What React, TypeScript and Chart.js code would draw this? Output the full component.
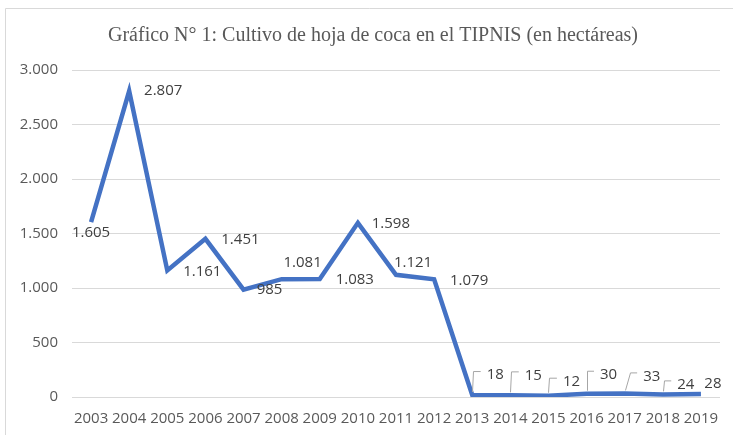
import React, { useEffect, useRef } from "react";
import { Chart, registerables } from "chart.js";

Chart.register(...registerables);

const TITLE = "Gráfico N° 1: Cultivo de hoja de coca en el TIPNIS (en hectáreas)";
const YEARS = ["2003", "2004", "2005", "2006", "2007", "2008", "2009", "2010", "2011", "2012", "2013", "2014", "2015", "2016", "2017", "2018", "2019"];
const HECTARES = [1605, 2807, 1161, 1451, 985, 1081, 1083, 1598, 1121, 1079, 18, 15, 12, 30, 33, 24, 28];
const Y_MAX = 3000;
const Y_STEP = 500;

// label placement (text centre relative to point), and whether a leader line is drawn
const LABEL_DX = [0, 34, 35, 35, 26, 21, 35, 33, 17, 35, 23, 23, 23, 22, 27, 23, 12];
const LABEL_DY = [11, 0, 1, 1, 0, -16, 1, 1, -12, 1, -20, -20, -14, -19, -17, -10, -10];
const LEADER = [false, false, false, false, false, false, false, false, false, false, true, true, true, true, true, true, false];

const fmt = (v: number) => v.toString().replace(/\B(?=(\d{3})+(?!\d))/g, ".");

const LABEL_FONT = "15px 'Open Sans'";

const framePlugin = {
  id: "frame",
  beforeDraw(chart: any) {
    const ctx = chart.ctx;
    ctx.save();
    ctx.strokeStyle = "#d9d9d9";
    ctx.lineWidth = 1;
    ctx.beginPath();
    ctx.moveTo(5.5, chart.height);
    ctx.lineTo(5.5, 8.5);
    ctx.lineTo(chart.width, 8.5);
    ctx.stroke();
    ctx.fillStyle = "#595959";
    ctx.font = "20px 'Liberation Serif'";
    ctx.textAlign = "center";
    ctx.textBaseline = "middle";
    ctx.fillText(TITLE, 373, 36);
    ctx.restore();
  },
};

const labelsPlugin = {
  id: "pointLabels",
  afterDatasetsDraw(chart: any) {
    const ctx = chart.ctx;
    const meta = chart.getDatasetMeta(0);
    ctx.save();
    ctx.font = LABEL_FONT;
    ctx.textAlign = "center";
    ctx.textBaseline = "middle";
    meta.data.forEach((pt: any, i: number) => {
      const text = fmt(HECTARES[i]);
      const lx = pt.x + LABEL_DX[i];
      const ly = pt.y + LABEL_DY[i];
      if (LEADER[i]) {
        const w = ctx.measureText(text).width;
        const left = lx - w / 2;
        ctx.strokeStyle = "#a6a6a6";
        ctx.lineWidth = 1;
        ctx.beginPath();
        ctx.moveTo(Math.round(pt.x) + 0.5, pt.y - 3);
        ctx.lineTo(Math.round(left - 13.5) + 0.5, ly - 3.5);
        ctx.lineTo(left - 6, ly - 3.5);
        ctx.stroke();
      }
      ctx.fillStyle = "#404040";
      ctx.fillText(text, lx, ly);
    });
    ctx.restore();
  },
};

export default function App() {
  const ref = useRef<HTMLCanvasElement | null>(null);
  useEffect(() => {
    if (!ref.current) return;
    const chart = new Chart(ref.current, {
      type: "line",
      data: {
        labels: YEARS,
        datasets: [
          {
            data: HECTARES,
            borderColor: "#4472C4",
            borderWidth: 4.5,
            borderJoinStyle: "miter",
            pointRadius: 0,
            tension: 0,
            fill: false,
          },
        ],
      },
      options: {
        animation: false,
        responsive: false,
        maintainAspectRatio: false,
        layout: { padding: { left: 0, right: 13, top: 70, bottom: 0 } },
        plugins: {
          legend: { display: false },
          tooltip: { enabled: false },
          title: { display: false },
        },
        scales: {
          x: {
            offset: true,
            grid: { display: false },
            border: { display: false },
            ticks: { color: "#595959", font: { family: "'Open Sans'", size: 15 }, padding: 5, maxRotation: 0, autoSkip: false },
            afterFit: (s: any) => { s.height = 38; },
          },
          y: {
            min: 0,
            max: Y_MAX,
            grid: { color: "#d9d9d9", lineWidth: 1, drawTicks: false },
            border: { display: false },
            ticks: { stepSize: Y_STEP, color: "#595959", font: { family: "'Open Sans'", size: 15 }, padding: 14, callback: (v: any) => fmt(Number(v)) },
            afterFit: (s: any) => { s.width = 72; },
          },
        },
      },
      plugins: [framePlugin, labelsPlugin],
    } as any);
    return () => chart.destroy();
  }, []);
  return (
    <div style={{ position: "fixed", left: 0, top: 0, width: 733, height: 435, background: "#fff" }}>
      <canvas ref={ref} width={733} height={435} style={{ width: 733, height: 435, display: "block" }} />
    </div>
  );
}
